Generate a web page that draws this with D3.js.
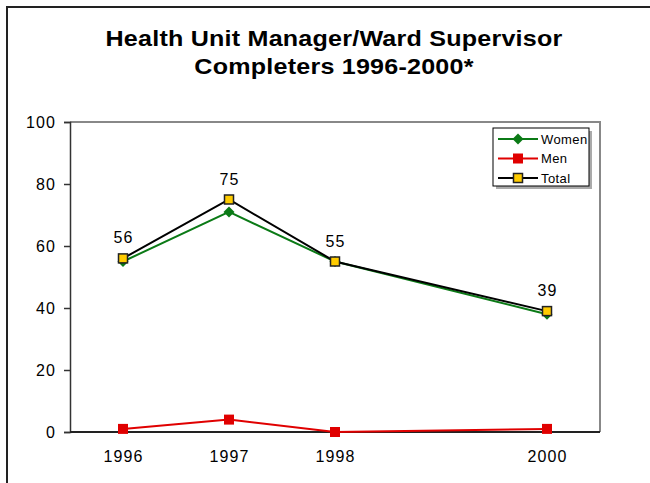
<!DOCTYPE html>
<html><head><meta charset="utf-8">
<script src="https://cdn.jsdelivr.net/npm/d3@7"></script>
<style>body{margin:0;background:#fff;} svg{display:block;font-family:"Liberation Sans",Arial,sans-serif;}</style>
</head><body><svg id="c" width="650" height="483"></svg>
<script>
const years = [1996, 1997, 1998, 2000];
const women = [55, 71, 55, 38];
const men = [1, 4, 0, 1];
const total = [56, 75, 55, 39];
const yTicks = [0, 20, 40, 60, 80, 100];
const titleLines = ["Health Unit Manager/Ward Supervisor", "Completers 1996-2000*"];

const svg = d3.select("#c");
// outer frame
svg.append("path").attr("d","M7,483 V7 H650").attr("fill","none").attr("stroke","#222").attr("stroke-width",2);

const L=70, T=122, R=600, B=432;
const x = d3.scaleLinear().domain([1995.5, 2000.5]).range([L, R]);
const y = d3.scaleLinear().domain([0, 100]).range([B, T]);

// title (glyphs horizontally widened as in the reference)
svg.append("g").attr("transform","translate(334,0) scale(1.14,1)")
  .selectAll("text").data(titleLines).join("text")
  .attr("x",0).attr("y",(d,i)=>46+i*28).attr("text-anchor","middle")
  .attr("font-size",22).attr("font-weight","bold").attr("letter-spacing","0.2px").attr("fill","#000").text(d=>d);

// plot border (top/right gray)
svg.append("path").attr("d",`M${L},${T} H${R} V${B}`).attr("fill","none").attr("stroke","#888").attr("stroke-width",2);

// y axis
const ya = svg.append("g").attr("transform",`translate(${L},0)`)
  .call(d3.axisLeft(y).tickValues(yTicks).tickSize(6).tickPadding(8));
ya.selectAll("path,line").attr("stroke","#333").attr("stroke-width",1.5);
ya.selectAll("text").attr("font-size",16).attr("letter-spacing","1.1px").attr("fill","#000").attr("font-family","Liberation Sans, Arial, sans-serif");
// x axis
const xa = svg.append("g").attr("transform",`translate(0,${B})`)
  .call(d3.axisBottom(x).tickValues(years).tickFormat(d3.format("d")).tickSize(0).tickPadding(19));
xa.select("path").attr("stroke","#222").attr("stroke-width",2).attr("d",`M${L},0H${R}`);
xa.selectAll("text").attr("font-size",16).attr("letter-spacing","1.1px").attr("fill","#000").attr("font-family","Liberation Sans, Arial, sans-serif");

const series = [
  {name:"Women", vals:women, color:"#0b7a16", marker:"diamond"},
  {name:"Men", vals:men, color:"#e00000", marker:"square"},
  {name:"Total", vals:total, color:"#000", marker:"tsquare"}
];
const line = d3.line().x(d=>x(d[0])).y(d=>y(d[1]));
function drawMarker(g, type, cx, cy){
  if(type==="diamond"){
    g.append("path").attr("d","M0,-5.5L5.5,0L0,5.5L-5.5,0Z").attr("transform",`translate(${cx},${cy})`).attr("fill","#0b7a16");
  } else if(type==="square"){
    g.append("rect").attr("x",cx-5).attr("y",cy-5).attr("width",10).attr("height",10).attr("fill","#e00000");
  } else {
    g.append("rect").attr("x",cx-4.5).attr("y",cy-4.5).attr("width",9).attr("height",9).attr("fill","#ffcc00").attr("stroke","#222").attr("stroke-width",1.5);
  }
}
series.forEach(s=>{
  const pts = years.map((yr,i)=>[yr,s.vals[i]]);
  svg.append("path").attr("d",line(pts)).attr("fill","none").attr("stroke",s.color).attr("stroke-width",2);
});
series.forEach(s=>{
  const g = svg.append("g");
  years.forEach((yr,i)=>drawMarker(g,s.marker,x(yr),y(s.vals[i])));
});
// data labels for total
svg.append("g").selectAll("text").data(years).join("text")
  .attr("x",d=>x(d)+0.5).attr("y",(d,i)=>y(total[i])-15).attr("text-anchor","middle")
  .attr("font-size",16).attr("letter-spacing","1.1px").attr("fill","#000").text((d,i)=>total[i]);

// legend
const lg = svg.append("g");
lg.append("rect").attr("x",496).attr("y",131).attr("width",96).attr("height",58).attr("fill","#aaa");
lg.append("rect").attr("x",493).attr("y",128).attr("width",96).attr("height",58).attr("fill","#fff").attr("stroke","#000").attr("stroke-width",1);
series.forEach((s,i)=>{
  const cy = 139 + i*19.5;
  lg.append("line").attr("x1",498).attr("x2",538).attr("y1",cy).attr("y2",cy).attr("stroke",s.color).attr("stroke-width",2);
  drawMarker(lg, s.marker, 518, cy);
  lg.append("text").attr("x",541).attr("y",cy+4.5).attr("font-size",13).attr("letter-spacing","0.4px").attr("fill","#000").text(s.name);
});
</script></body></html>
